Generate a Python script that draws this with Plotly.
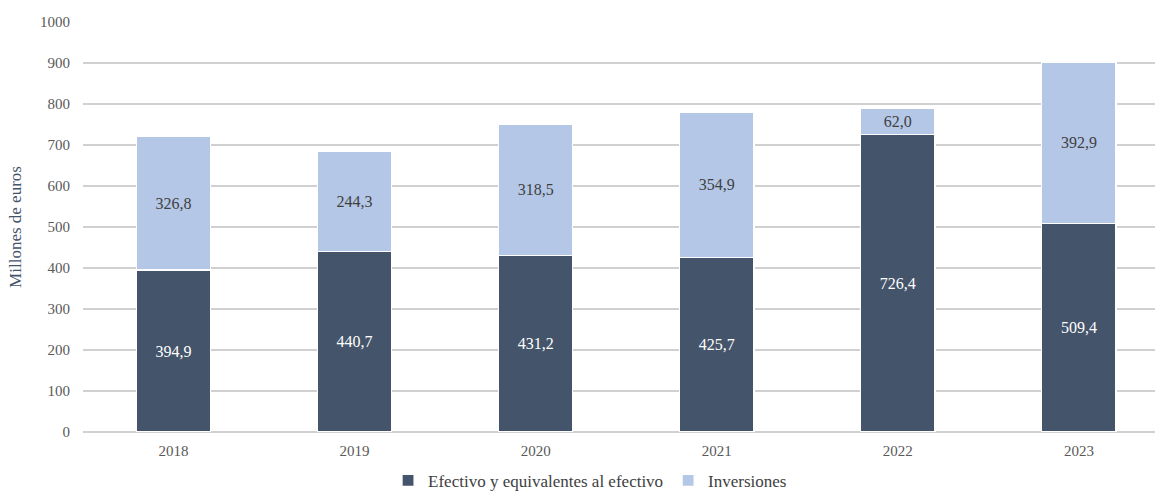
import plotly.graph_objects as go

years = ["2018", "2019", "2020", "2021", "2022", "2023"]
efectivo = [394.9, 440.7, 431.2, 425.7, 726.4, 509.4]
inversiones = [326.8, 244.3, 318.5, 354.9, 62.0, 392.9]

DARK = "#44546A"
LIGHT = "#B4C7E7"
FONT = "Liberation Serif, Times New Roman, serif"


def es(v):
    return f"{v:.1f}".replace(".", ",")


fig = go.Figure()
fig.add_trace(go.Bar(
    x=years, y=efectivo, name="Efectivo y equivalentes al efectivo",
    marker=dict(color=DARK, line=dict(color="white", width=1.2)),
    text=[es(v) for v in efectivo], textposition="inside",
    insidetextanchor="middle",
    textfont=dict(family=FONT, size=16, color="white"),
    width=0.41,
))
fig.add_trace(go.Bar(
    x=years, y=inversiones, name="Inversiones",
    marker=dict(color=LIGHT, line=dict(color="white", width=1.2)),
    text=[es(v) for v in inversiones], textposition="inside",
    insidetextanchor="middle",
    textfont=dict(family=FONT, size=16, color="#404040"),
    width=0.41,
))

fig.update_layout(
    barmode="stack",
    width=1155, height=500,
    margin=dict(l=83, r=0, t=22, b=68, autoexpand=False),
    plot_bgcolor="white", paper_bgcolor="white",
    font=dict(family=FONT, size=15, color="#595959"),
    showlegend=True,
    legend=dict(orientation="h", x=0.473, xanchor="center", y=-0.163,
                yanchor="bottom", font=dict(family=FONT, size=17, color="#404040"),
                itemwidth=30, traceorder="normal"),
)
fig.update_xaxes(
    type="category", range=[-0.5, 5.42],
    showgrid=False, showline=False, ticks="",
    tickfont=dict(family=FONT, size=15, color="#595959"),
    ticklabelstandoff=8,
)
fig.update_yaxes(
    range=[0, 1000], dtick=100, tick0=0,
    showgrid=True, gridcolor="#D0D0D0", gridwidth=1.5,
    zeroline=True, zerolinecolor="#D0D0D0", zerolinewidth=1.5,
    showline=False, ticks="",
    tickfont=dict(family=FONT, size=15, color="#595959"),
    ticklabelstandoff=12,
    title=dict(text="Millones de euros", standoff=14,
               font=dict(family=FONT, size=17, color="#44546A")),
)

fig.write_html("out.html")
